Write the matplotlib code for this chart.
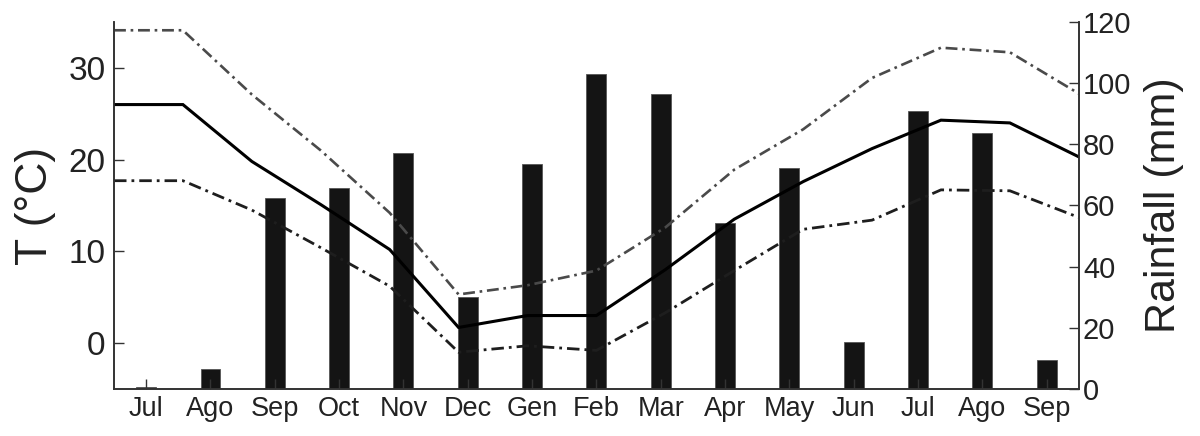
import numpy as np
import matplotlib
matplotlib.use("Agg")
import matplotlib.pyplot as plt

plt.rcParams['font.family'] = ['Liberation Sans', 'DejaVu Sans']

months = ['Jul', 'Ago', 'Sep', 'Oct', 'Nov', 'Dec', 'Gen', 'Feb', 'Mar',
          'Apr', 'May', 'Jun', 'Jul', 'Ago', 'Sep']
rainfall = [0.5, 6.5, 62.5, 65.7, 77.0, 30.0, 73.5, 103.0, 96.4,
            54.2, 72.1, 15.5, 90.9, 83.7, 9.5]
t_mean = [26.0, 26.0, 19.8, 15.1, 10.2, 1.7, 3.0, 3.0, 8.0,
          13.5, 17.6, 21.2, 24.3, 24.0, 20.3]
t_max = [34.1, 34.1, 27.1, 21.0, 14.2, 5.3, 6.3, 7.9, 12.6,
         18.9, 23.3, 28.9, 32.2, 31.7, 27.2]
t_min = [17.7, 17.7, 14.5, 10.4, 6.2, -1.0, -0.3, -0.8, 3.3,
         7.9, 12.4, 13.4, 16.7, 16.6, 13.7]

fig = plt.figure(figsize=(12, 4.36), dpi=100)
ax = fig.add_axes([0.095, 0.108, 0.804, 0.8415])
ax2 = ax.twinx()
ax.set_zorder(ax2.get_zorder() + 1)
ax.patch.set_visible(False)
ax2.patch.set_visible(True)
ax2.patch.set_facecolor('white')

xb = np.arange(len(months))
ax2.bar(xb, rainfall, width=0.31, color='#141414', edgecolor='#555555',
        linewidth=0.6)

# temperature curves span the whole x range
xl = np.linspace(-0.5, len(months) - 0.5, len(t_mean))
ax.plot(xl, t_max, color='#4a4a4a', lw=1.9, dashes=(4.5, 1.8, 1, 1.8))
ax.plot(xl, t_mean, color='black', lw=2.2, solid_joinstyle='miter')
ax.plot(xl, t_min, color='#1e1e1e', lw=2.0, dashes=(4.5, 1.8, 1, 1.8))

ax.set_xlim(-0.5, len(months) - 0.5)
ax.set_ylim(-5, 35)
ax2.set_ylim(0, 120)
ax.set_yticks([0, 10, 20, 30])
ax2.set_yticks(np.arange(0, 121, 20))
ax.set_xticks(xb)
ax.set_xticklabels(months)

for a in (ax, ax2):
    a.spines['top'].set_visible(False)
    for s in ('left', 'right', 'bottom'):
        a.spines[s].set_color('#333333')
        a.spines[s].set_linewidth(1.2)

ax.tick_params(axis='y', direction='in', length=7.5, width=1.0,
               labelsize=24, pad=6, colors='#333333', labelcolor='#222222')
ax.tick_params(axis='x', direction='in', length=7.5, width=1.0,
               labelsize=19.5, pad=5, colors='#333333', labelcolor='#222222')
ax2.tick_params(axis='y', direction='in', length=7.5, width=1.0,
                labelsize=21, pad=3, colors='#333333', labelcolor='#222222')

ax.set_ylabel('T (°C)', fontsize=32, color='#222222')
ax.yaxis.set_label_coords(-0.060, 0.5)
ax2.set_ylabel('Rainfall (mm)', fontsize=31, color='#222222')
ax2.yaxis.set_label_coords(1.068, 0.5)

fig.savefig('out.png', dpi=100)
